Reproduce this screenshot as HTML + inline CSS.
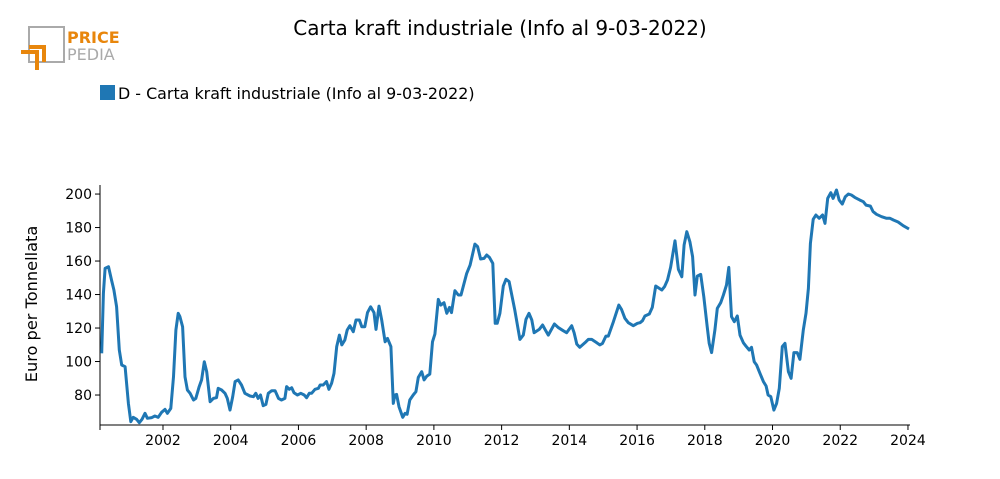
<!DOCTYPE html>
<html><head><meta charset="utf-8"><style>
body{margin:0;background:#fff;font-family:"DejaVu Sans","Liberation Sans",sans-serif;}
svg text{font-family:"DejaVu Sans","Liberation Sans",sans-serif;}
</style></head><body>
<svg id="chart" width="1000" height="475" viewBox="0 0 1000 475" xmlns="http://www.w3.org/2000/svg">
<g>
<rect x="29" y="27" width="35" height="35" fill="none" stroke="#aaa" stroke-width="2"/>
<path d="M21 52 H37 V70 M29 47 H44 V62" fill="none" stroke="#e8860c" stroke-width="4"/>
<text x="67" y="43" font-size="16" font-weight="bold" fill="#e8860c">PRICE</text>
<text x="67" y="60" font-size="16" fill="#aaa">PEDIA</text>
</g>
<text x="500" y="35" font-size="20" text-anchor="middle" fill="#000">Carta kraft industriale (Info al 9-03-2022)</text>
<g>
<rect x="100" y="85" width="15" height="15" fill="#1f77b4"/>
<text x="118" y="99" font-size="15.9" fill="#000">D - Carta kraft industriale (Info al 9-03-2022)</text>
</g>
<text transform="translate(37,304) rotate(-90)" font-size="16.2" text-anchor="middle">Euro per Tonnellata</text>
<g id="axes"></g>
<path id="line" fill="none" stroke="#1f77b4" stroke-width="3" stroke-linejoin="round"/>
</svg>
<script>
const times=[2000.19,2000.24,2000.29,2000.39,2000.48,2000.55,2000.63,2000.71,2000.78,2000.88,2000.98,2001.05,2001.12,2001.22,2001.30,2001.38,2001.47,2001.54,2001.67,2001.76,2001.86,2001.96,2002.06,2002.13,2002.23,2002.31,2002.38,2002.45,2002.50,2002.58,2002.65,2002.72,2002.80,2002.90,2002.97,2003.07,2003.14,2003.22,2003.29,2003.39,2003.49,2003.58,2003.63,2003.73,2003.83,2003.90,2003.98,2004.06,2004.13,2004.22,2004.32,2004.42,2004.57,2004.67,2004.74,2004.81,2004.88,2004.96,2005.04,2005.11,2005.21,2005.31,2005.41,2005.50,2005.60,2005.65,2005.73,2005.80,2005.87,2005.97,2006.07,2006.17,2006.24,2006.32,2006.39,2006.49,2006.59,2006.64,2006.73,2006.83,2006.90,2006.98,2007.05,2007.13,2007.21,2007.28,2007.37,2007.44,2007.52,2007.62,2007.70,2007.80,2007.87,2007.96,2008.04,2008.13,2008.23,2008.29,2008.38,2008.46,2008.56,2008.63,2008.73,2008.80,2008.85,2008.90,2008.97,
2009.08,2009.15,2009.21,2009.29,2009.39,2009.47,2009.54,2009.64,2009.71,2009.79,2009.88,2009.96,2010.03,2010.13,2010.20,2010.30,2010.38,2010.46,2010.52,2010.62,2010.72,2010.80,2010.97,2011.07,2011.21,2011.29,2011.38,2011.48,2011.56,2011.64,2011.74,2011.81,2011.87,2011.95,2012.05,2012.13,2012.22,2012.39,2012.54,2012.64,2012.72,2012.81,2012.89,2012.96,2013.11,2013.21,2013.28,2013.38,2013.56,2013.68,2013.82,2013.92,2014.07,2014.14,2014.22,2014.31,2014.46,2014.56,2014.66,2014.81,2014.90,2014.98,2015.08,2015.15,2015.30,2015.46,2015.54,2015.64,2015.74,2015.89,2016.01,2016.09,2016.16,2016.23,2016.36,2016.45,2016.55,2016.73,2016.81,2016.90,2016.99,2017.12,2017.22,2017.32,2017.39,2017.47,
2017.56,2017.64,2017.71,2017.78,2017.88,2017.97,2018.07,2018.13,2018.20,2018.30,2018.37,2018.47,2018.55,2018.64,2018.71,2018.79,2018.87,2018.96,2019.04,2019.14,2019.21,2019.31,2019.38,2019.46,2019.53,2019.63,2019.73,2019.81,2019.87,2019.95,2020.04,2020.12,2020.20,2020.29,2020.37,2020.47,2020.55,2020.63,2020.73,2020.81,2020.91,2020.99,2021.06,2021.12,2021.20,2021.28,2021.38,2021.48,2021.55,2021.63,2021.72,2021.79,2021.89,2021.97,2022.06,2022.15,2022.24,2022.33,2022.43,2022.58,2022.68,2022.76,2022.89,2022.97,2023.07,2023.22,2023.37,2023.47,2023.57,2023.71,2023.86,2024.03];
const prices=[104.9,140.7,155.6,156.6,148.7,142.7,132.7,106.9,97.9,96.9,75,64.1,66.7,65.5,63.5,65.5,69.1,66.1,66.5,67.5,66.7,69.7,71.4,69.1,72,90.9,118.8,128.8,126.8,120.8,90.9,83,81,77,78,85,89,99.9,93.9,76,78,78.4,84,83,81,78,71,79,88,89,86,81,79.4,79,81,78,80,73.6,74.4,81,82.6,82.6,78,77,78,85,83.4,84.4,81.4,80,81,80,78.4,81,81,83.4,84,86,86,88,83.4,87,92.9,108.9,115.8,109.9,112.8,118.8,121.4,117.8,124.8,124.8,120.8,120.8,129.2,132.7,129.2,119.2,133.1,124.8,111.8,113.8,108.9,75,80,80.4,73,
66.7,69.1,68.5,77,80,82,90.5,93.9,89,91.3,92.5,111.8,116.4,137.1,133.7,135.1,128.8,132.3,129.2,142.3,139.7,139.7,152.6,157.6,170.1,168.6,161.2,161.6,163.6,162.2,158.6,122.8,122.8,128.8,145.1,149.1,147.7,130.7,113.2,115.8,125.2,128.8,124.8,117.2,119.2,121.8,119.2,115.8,122.4,120.2,118.4,117.2,121.4,117.2,110.4,108.5,111.2,113.2,113.2,111.2,109.9,110.8,115.2,115.2,123.8,133.7,131.1,125.8,123.2,121.4,122.8,123.2,124.4,127.2,128.4,132.3,145.1,142.7,144.7,148.7,156.2,172.1,155,150.6,169.6,177.5,
171.5,162.6,139.7,151,152,138.7,120.8,110.8,105.3,118.8,131.7,135.1,139.7,145.7,156.2,126.8,123.8,127.2,115.8,111.2,109.3,106.9,108.5,99.9,97.9,92.9,88,85.4,80,79,71,75,84,108.9,110.8,93.9,90,105.3,105.3,101.3,118.8,128.8,143.7,170.5,184.9,187.5,185.5,187.5,182.5,197.4,200.8,197.4,202.4,196.4,194,198.4,200,199.4,198,196.4,195.4,193.4,192.8,189.5,187.9,186.5,185.5,185.5,184.5,183.3,181.1,179.1];
const yTicks=[80,100,120,140,160,180,200];
const xTicks=[2002,2004,2006,2008,2010,2012,2014,2016,2018,2020,2022,2024];
const xDomain=[2000.14,2024.06];
const yDomain=[62.1,205.4];
</script>
<script>
const NS="http://www.w3.org/2000/svg";
const L=100,R=910,T=185,B=425;
function sx(t){return L+(t-xDomain[0])/(xDomain[1]-xDomain[0])*(R-L);}
function sy(v){return B-(v-yDomain[0])/(yDomain[1]-yDomain[0])*(B-T);}
const ax=document.getElementById('axes');
function mk(tag,attrs,txt){const e=document.createElementNS(NS,tag);for(const k in attrs)e.setAttribute(k,attrs[k]);if(txt!=null)e.textContent=txt;ax.appendChild(e);return e;}
let e=mk('line',{x1:L,y1:T,x2:L,y2:B,stroke:'#000','stroke-width':1});


e=mk('line',{x1:L,y1:B,x2:R,y2:B,stroke:'#000','stroke-width':1});


mk('line',{x1:L,y1:B,x2:L,y2:B+5,stroke:'#000'});
yTicks.forEach(v=>{const y=sy(v);
 mk('line',{x1:L-5,y1:y,x2:L,y2:y,stroke:'#000'});
 const t=mk('text',{x:L-8,y:y+5,'font-size':14,'text-anchor':'end'},v);
 
 });
xTicks.forEach(v=>{const x=sx(v);
 mk('line',{x1:x,y1:B,x2:x,y2:B+5,stroke:'#000'});
 const t=mk('text',{x:x,y:B+20,'font-size':14,'text-anchor':'middle'},v);
 
 });
document.getElementById('line').setAttribute('d',times.map((t,i)=>(i?'L':'M')+sx(t).toFixed(1)+' '+sy(prices[i]).toFixed(1)).join(' '));
</script>
</body></html>
